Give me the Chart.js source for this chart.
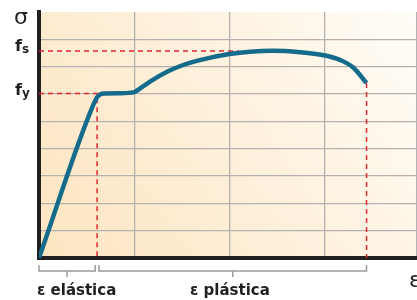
<!DOCTYPE html>
<html>
<head>
<meta charset="utf-8">
<script src="https://cdn.jsdelivr.net/npm/chart.js@4.4.1/dist/chart.umd.min.js"></script>
<style>
  body { margin: 0; background: #fff; }
  #wrap { width: 417px; height: 300px; }
</style>
</head>
<body>
<div id="wrap"><canvas id="grafico" width="417" height="300"></canvas></div>
<script>
// curva tensão-deformação
const deformacao = [0, 0.57, 0.62, 0.68, 0.85, 1.0, 1.07, 1.17, 1.35, 1.52, 1.70, 2.0, 2.22, 2.45, 2.74, 2.99, 3.16, 3.30, 3.44];
const tensao     = [0, 5.6, 5.93, 6.02, 6.03, 6.07, 6.22, 6.46, 6.82, 7.07, 7.25, 7.46, 7.55, 7.58, 7.53, 7.42, 7.25, 6.97, 6.40];

const fy = 6.02;          // tensão de escoamento
const fs = 7.57;          // tensão máxima
const epsY = 0.61;        // fim do trecho elástico
const epsS = 2.1;         // onde fs encontra a curva
const epsRuptura = 3.44;  // ruptura

const rotulosY = ['σ', 'f|s', 'f|y'];
const rotulosX = ['ε elástica', 'ε plástica', 'ε'];

const pontos = deformacao.map((x, i) => ({ x: x, y: tensao[i] }));
const tracejado = (pts) => ({
    data: pts,
    showLine: true,
    borderColor: '#e8262d',
    borderWidth: 1.5,
    borderDash: [5, 4],
    pointRadius: 0,
    tension: 0,
    order: 1
});

const fundo = {
    id: 'fundo',
    beforeDraw(chart) {
        const { ctx, chartArea: a } = chart;
        const g = ctx.createLinearGradient(a.left, a.bottom, a.right, a.top);
        g.addColorStop(0, '#fde5c0');
        g.addColorStop(0.55, '#fef1de');
        g.addColorStop(1, '#fffdf8');
        ctx.save();
        ctx.fillStyle = g;
        ctx.fillRect(a.left, a.top, a.right - a.left, a.bottom - a.top);
        ctx.restore();
    }
};

const textos = {
    id: 'textos',
    afterDraw(chart) {
        const ctx = chart.ctx;
        const sx = chart.scales.x, sy = chart.scales.y;
        ctx.save();
        ctx.fillStyle = '#231f20';
        ctx.textBaseline = 'alphabetic';

        // σ
        ctx.font = '22px "DejaVu Sans"';
        ctx.fillText(rotulosY[0], 14, 24);

        // fs e fy com índice
        const sub = (txt, yVal, dy) => {
            const [base, ind] = txt.split('|');
            const yp = sy.getPixelForValue(yVal);
            ctx.font = 'bold 16px "DejaVu Sans"';
            ctx.fillText(base, 15, yp + dy);
            const w = ctx.measureText(base).width;
            ctx.font = 'bold 12px "DejaVu Sans"';
            ctx.fillText(ind, 15 + w, yp + dy + 2);
        };
        sub(rotulosY[1], fs, 0);
        sub(rotulosY[2], fy, 2);

        // chaves sob o eixo x
        ctx.strokeStyle = '#9a9a9a';
        ctx.lineWidth = 1.5;
        const chave = (x0, x1) => {
            const a = sx.getPixelForValue(x0), b = sx.getPixelForValue(x1);
            const yb = 271;
            ctx.beginPath();
            ctx.moveTo(a, 265); ctx.lineTo(a, yb); ctx.lineTo(b, yb); ctx.lineTo(b, 265);
            ctx.moveTo((a + b) / 2, yb); ctx.lineTo((a + b) / 2, 277);
            ctx.stroke();
        };
        chave(0, epsY - 0.02);
        chave(epsY + 0.02, epsRuptura);

        ctx.font = 'bold 15px "DejaVu Sans"';
        ctx.fillText(rotulosX[0], 37, 295);
        ctx.fillText(rotulosX[1], 190, 295);
        ctx.font = '22px "DejaVu Sans"';
        ctx.fillText(rotulosX[2], 409, 287);
        ctx.restore();
    }
};

const corGrade = (c) => (c.tick && c.tick.value >= 9 ? 'rgba(0,0,0,0)' : '#b4b2b0');

new Chart(document.getElementById('grafico'), {
    type: 'scatter',
    data: {
        datasets: [
            {
                data: pontos,
                showLine: true,
                borderColor: '#146b8c',
                borderWidth: 4.5,
                pointRadius: 0,
                cubicInterpolationMode: 'monotone',
                order: 0
            },
            tracejado([{ x: 0, y: fy }, { x: epsY, y: fy }, { x: epsY, y: 0 }]),
            tracejado([{ x: 0, y: fs }, { x: epsS, y: fs }]),
            tracejado([{ x: epsRuptura, y: tensao[tensao.length - 1] }, { x: epsRuptura, y: 0 }])
        ]
    },
    options: {
        responsive: false,
        animation: false,
        layout: { padding: { left: 39, top: 12, right: 0, bottom: 42 } },
        plugins: { legend: { display: false }, tooltip: { enabled: false } },
        scales: {
            x: {
                type: 'linear',
                min: 0,
                max: 3.97,
                ticks: { display: false, stepSize: 1 },
                grid: { color: '#b4b2b0', lineWidth: 1.3, drawTicks: false },
                border: { color: '#231f20', width: 4 },
                afterFit: (s) => { s.height = 0; }
            },
            y: {
                min: 0,
                max: 9,
                ticks: { display: false, stepSize: 1 },
                grid: { color: corGrade, lineWidth: 1.3, drawTicks: false },
                border: { color: '#231f20', width: 4 },
                afterFit: (s) => { s.width = 0; }
            }
        }
    },
    plugins: [fundo, textos]
});
</script>
</body>
</html>
